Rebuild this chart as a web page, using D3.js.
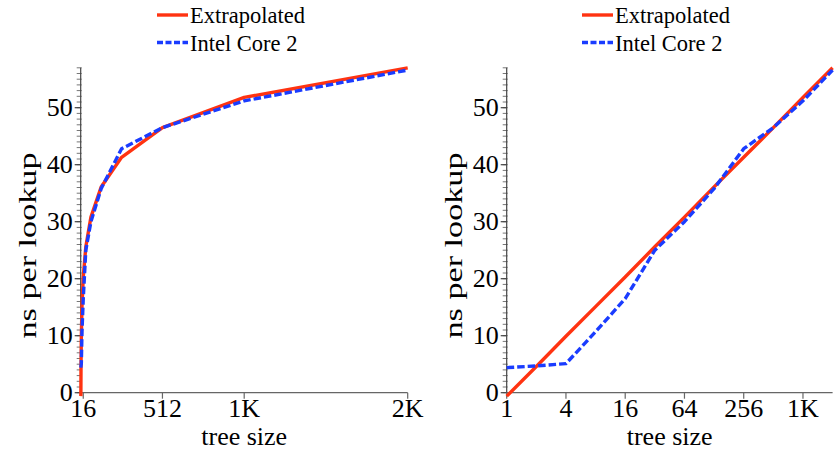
<!DOCTYPE html>
<html><head><meta charset="utf-8">
<script src="https://cdn.jsdelivr.net/npm/d3@7"></script>
<style>body{margin:0;background:#fff}svg{display:block}svg text{font-family:"Liberation Serif","Times New Roman",serif;}</style>
</head><body>
<svg id="c" width="836" height="450"></svg>
<script>
const treeSizes = [1, 2, 4, 8, 16, 32, 64, 128, 256, 512, 1024, 2048];
const extrapolated = [-0.6, 4.6, 9.9, 15.1, 20.3, 25.6, 30.8, 36.1, 41.3, 46.5, 51.8, 57.0];
const intelCore2 = [4.4, 4.7, 5.1, 10.7, 16.5, 25.0, 30.0, 35.8, 42.8, 46.5, 51.2, 56.6];
const seriesNames = ["Extrapolated", "Intel Core 2"];
const leftTicks = [16, 512, 1024, 2048];
const leftTickLabels = ["16", "512", "1K", "2K"];
const rightTicks = [1, 4, 16, 64, 256, 1024];
const rightTickLabels = ["1", "4", "16", "64", "256", "1K"];
const yMajor = [0, 10, 20, 30, 40, 50];
const yMax = 57;

const svg = d3.select("#c");
const colors = ["#ff3311", "#1a3cff"];
const y = d3.scaleLinear().domain([0, yMax]).range([392.7, 67.8]);

const panels = [
  {x: d3.scaleLinear().domain([0, 2048]).range([80.7, 407.7]), ticks: leftTicks, labels: leftTickLabels, legendX: 157},
  {x: d3.scaleLog().base(2).domain([1, 2048]).range([506.7, 832.6]), ticks: rightTicks, labels: rightTickLabels, legendX: 582}
];

function txt(g) {
  return g.append("text").attr("fill", "#000");
}

panels.forEach(p => {
  const g = svg.append("g");
  const x0 = p.x.range()[0], x1 = p.x.range()[1];
  const minor = d3.range(0, yMax + 1);
  g.selectAll(".ymin").data(minor).enter().append("line")
    .attr("x1", x0 - 4).attr("x2", x0 + 1)
    .attr("y1", d => y(d)).attr("y2", d => y(d))
    .attr("stroke", "#777").attr("stroke-width", 1);
  g.selectAll(".ymaj").data(yMajor).enter().append("line")
    .attr("x1", x0 - 6).attr("x2", x0)
    .attr("y1", d => y(d)).attr("y2", d => y(d))
    .attr("stroke", "#444").attr("stroke-width", 1.2);
  yMajor.forEach(d => {
    txt(g).attr("x", x0 - 8).attr("y", y(d)).attr("dy", "0.33em")
      .attr("text-anchor", "end").attr("font-size", 26).text(d);
  });
  g.append("line").attr("x1", x0).attr("x2", x0).attr("y1", y(0)).attr("y2", y(yMax))
    .attr("stroke", "#444").attr("stroke-width", 1.2);
  g.append("line").attr("x1", x0).attr("x2", x1).attr("y1", y(0)).attr("y2", y(0))
    .attr("stroke", "#666").attr("stroke-width", 1.2);
  g.selectAll(".xt").data(p.ticks).enter().append("line")
    .attr("x1", d => p.x(d)).attr("x2", d => p.x(d))
    .attr("y1", y(0)).attr("y2", y(0) + 6)
    .attr("stroke", "#666").attr("stroke-width", 1.2);
  p.ticks.forEach((d, i) => {
    txt(g).attr("x", p.x(d)).attr("y", 417)
      .attr("text-anchor", "middle").attr("font-size", 26).text(p.labels[i]);
  });
  txt(g).attr("x", (x0 + x1) / 2).attr("y", 445)
    .attr("text-anchor", "middle").attr("font-size", 26).text("tree size");
  txt(g).attr("transform", `translate(${x0 - 45},245.5) rotate(-90)`)
    .attr("text-anchor", "middle").attr("font-size", 25)
    .attr("textLength", 186).attr("lengthAdjust", "spacingAndGlyphs")
    .text("ns per lookup");
  const series = [extrapolated, intelCore2];
  series.forEach((vals, si) => {
    const line = d3.line().x((d, i) => p.x(treeSizes[i])).y(d => y(d));
    g.append("path").datum(vals).attr("d", line)
      .attr("fill", "none").attr("stroke", colors[si]).attr("stroke-width", 3.4)
      .attr("stroke-linejoin", "round")
      .attr("stroke-dasharray", si === 1 ? "7.5,3" : null);
  });
  const lg = [15, 42.5];
  seriesNames.forEach((name, si) => {
    g.append("line").attr("x1", p.legendX).attr("x2", p.legendX + 31)
      .attr("y1", lg[si]).attr("y2", lg[si])
      .attr("stroke", colors[si]).attr("stroke-width", 3.4)
      .attr("stroke-dasharray", si === 1 ? "6,2.5" : null);
    txt(g).attr("x", p.legendX + 33).attr("y", lg[si] + 8)
      .attr("font-size", 22.5).text(name);
  });
});
</script>
</body></html>
